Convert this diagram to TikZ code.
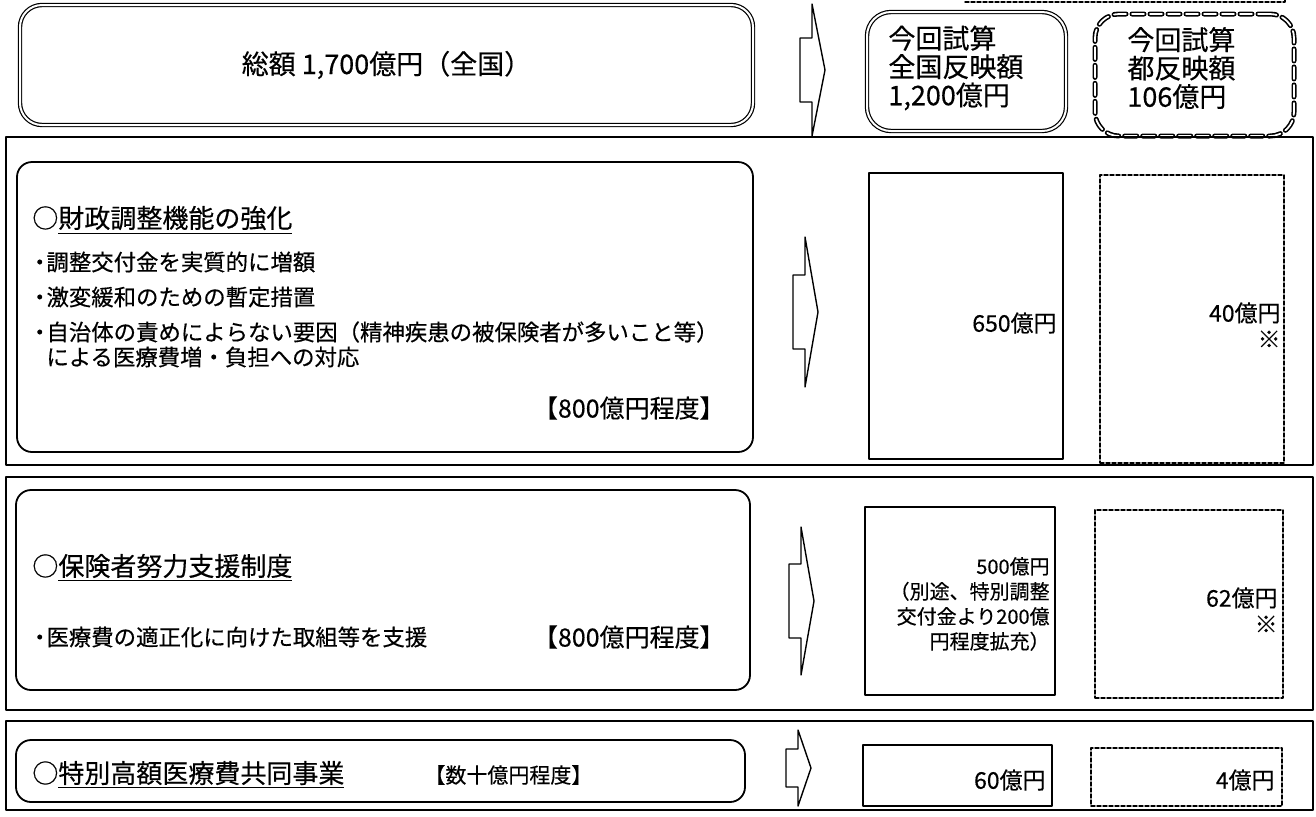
\documentclass[tikz,border=0pt]{standalone}
\usepackage{fontspec}
\newfontfamily\jpfont{Noto Sans CJK JP}[FakeBold=0.4]
\newcommand\bulletdot{\kern-0.35em・\kern-0.2em}
\usetikzlibrary{fit}

\begin{document}
\begin{tikzpicture}[
  x=0.5pt, y=-0.5pt,
  line cap=round,
  line join=round,
  every node/.style={font=\jpfont, inner sep=0pt},
  frame/.style={draw, line width=0.6pt},
  roundbox/.style={draw, line width=0.9pt, rounded corners=7.5pt},
  dblbox/.style={draw, line width=0.6pt, double, double distance=1pt, rounded corners=11pt},
  dbldash/.style={draw, line width=0.8pt, double, double distance=0.9pt, rounded corners=12pt,
    dash pattern=on 6pt off 3pt},
  solidbox/.style={draw, line width=0.8pt},
  dashbox/.style={draw, line width=0.7pt, dash pattern=on 2pt off 1pt},
  big/.style={font=\jpfont\fontsize{13.5}{14.2}\selectfont},
  head/.style={font=\jpfont\fontsize{13}{15}\selectfont, anchor=west},
  item/.style={font=\jpfont\fontsize{11.2}{13}\selectfont, anchor=west},
  cost/.style={font=\jpfont\fontsize{12.5}{14}\selectfont, anchor=east},
  amount/.style={font=\jpfont\fontsize{11.5}{13}\selectfont, anchor=east, align=right}
  ]

  \useasboundingbox (0,0) rectangle (1316,816);

  % Header row
  \node[dblbox, fit={(20,5) (753,125)}] (top) {};
  \node[big] (total) at (top.center) {総額 1,700億円（全国）};

  \node[dblbox, rounded corners=12pt, fit={(867,12) (1066,131)}] (natbox) {};
  \node[big, anchor=west, align=left] (nat) at (888,68) {今回試算\\全国反映額\\1,200億円};

  \node[dbldash, fit={(1095,14) (1294,136)}] (tobox) {};
  \node[big, anchor=west, align=left] (to) at (1127,68) {今回試算\\都反映額\\106億円};

  \draw[dashbox] (965,2) -- (1285,2) -- (1285,-4);

  % Section frames
  \node[frame, fit={(6,137) (1313,465)}] (sec1) {};
  \node[frame, fit={(6,477) (1313,710)}] (sec2) {};
  \node[frame, fit={(6,721) (1313,810)}] (sec3) {};

  % Left boxes
  \node[roundbox, fit={(17,162) (753,452)}] (left1) {};
  \node[roundbox, fit={(16,490) (750,690)}] (left2) {};
  \node[roundbox, fit={(16,740) (745,802)}] (left3) {};

  \node[head] (h1) at (32,220) {○\underline{財政調整機能の強化}};
  \node[item] (b11) at (36,262) {\bulletdot 調整交付金を実質的に増額};
  \node[item] (b12) at (36,297) {\bulletdot 激変緩和のための暫定措置};
  \node[item] (b13) at (36,332) {\bulletdot 自治体の責めによらない要因（精神疾患の被保険者が多いこと等）};
  \node[item] (b14) at (46,357) {による医療費増・負担への対応};
  \node[cost] (c1) at (725,408) {【800億円程度】};

  \node[head] (h2) at (32,568) {○\underline{保険者努力支援制度}};
  \node[item] (b21) at (36,637) {\bulletdot 医療費の適正化に向けた取組等を支援};
  \node[cost] (c2) at (725,637) {【800億円程度】};

  \node[head] (h3) at (32,775) {○\underline{特別高額医療費共同事業}};
  \node[item, font=\jpfont\fontsize{10.5}{12}\selectfont] (c3) at (424,775) {【数十億円程度】};

  % Block arrows
  \foreach \x/\y/\h/\s in {800/70/66/32, 793/312/75/37, 789/601/74/37, 786/768/38/19}
  {
    \draw[line width=0.7pt]
    (\x,\y-\s) -- (\x+12,\y-\s) -- (\x+12,\y-\h) -- (\x+25,\y)
    -- (\x+12,\y+\h) -- (\x+12,\y+\s) -- (\x,\y+\s) -- cycle;
  }

  % Right columns
  \node[solidbox, fit={(869,173) (1063,459)}] (n650) {};
  \node[dashbox, fit={(1100,175) (1284,463)}] (t40) {};
  \node[amount] (v650) at (1057,323) {650億円};
  \node[amount] (v40) at (1281,325) {40億円\\※};

  \node[solidbox, fit={(865,507) (1055,695)}] (n500) {};
  \node[dashbox, fit={(1095,510) (1283,698)}] (t62) {};
  \node[amount, font=\jpfont\fontsize{10}{12.5}\selectfont] (v500) at (1050,604)
    {500億円\\（別途、特別調整\\交付金より200億\\円程度拡充）};
  \node[amount] (v62) at (1278,610) {62億円\\※};

  \node[solidbox, fit={(863,745) (1052,806)}] (n60) {};
  \node[dashbox, fit={(1091,748) (1282,806)}] (t4) {};
  \node[amount] (v60) at (1046,780) {60億円};
  \node[amount] (v4) at (1275,780) {4億円};

\end{tikzpicture}
\end{document}
